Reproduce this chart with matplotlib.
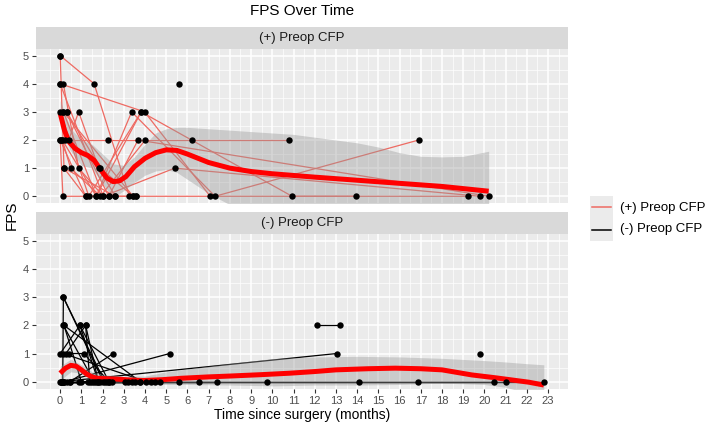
import numpy as np
import matplotlib.pyplot as plt
from matplotlib.lines import Line2D

plt.rcParams['font.family'] = ['Liberation Sans', 'DejaVu Sans']

# ---- patient trajectories, (+) Preop CFP ----
pos_x = [
    [0.0, 1.6, 3.26],
    [0.0, 3.98, 7.07],
    [0.15, 0.87, 2.03, 5.4, 19.79],
    [0.0, 1.35, 3.82, 10.93, 19.23],
    [0.15, 1.7, 3.37, 7.3, 16.9],
    [0.3, 1.9, 3.44, 13.95],
    [0.0, 0.13, 2.29, 3.67, 20.21],
    [0.1, 0.49, 1.9, 4.01],
    [0.25, 2.26, 6.23, 10.8],
    [0.4, 0.87, 1.82, 2.6, 3.59],
    [0.18, 1.2],
    [5.58],
    [0.0, 2.03],
    [0.15, 3.44],
    [0.0, 1.2, 3.59],
    [0.3, 2.29],
    [0.1, 1.7, 3.82],
    [0.0, 0.18, 2.6],
]
pos_y = [
    [5, 4, 0],
    [4, 3, 0],
    [4, 1, 0, 1, 0],
    [3, 0, 3, 0, 0],
    [3, 0, 3, 0, 2],
    [3, 1, 0, 0],
    [2, 0, 0, 2, 0],
    [2, 1, 0, 2],
    [2, 2, 2, 2],
    [2, 3, 1, 0, 0],
    [1, 0],
    [4],
    [4, 0],
    [3, 0],
    [2, 0, 0],
    [3, 0],
    [2, 0, 3],
    [5, 1, 0],
]

# ---- patient trajectories, (-) Preop CFP ----
neg_x = [
    [0.1, 4.48, 9.76, 16.89, 22.8],
    [0.2, 5.58, 14.1, 21.0],
    [0.3, 6.56, 20.45],
    [0.45, 7.38],
    [0.15, 1.6, 3.05],
    [0.12, 0.15, 2.1, 4.3],
    [0.0, 0.93, 1.8, 3.54],
    [0.27, 1.2, 1.4, 3.39],
    [0.4, 1.12, 2.3, 3.78],
    [0.2, 5.16],
    [0.05, 13.03],
    [12.12, 13.18],
    [19.79],
    [0.46, 2.5],
    [0.18, 1.0, 2.45, 4.72],
    [0.15, 4.06],
    [0.0, 0.9, 1.3, 3.2],
    [0.05, 1.5, 2.2],
    [0.1, 1.7, 1.9],
    [0.15, 2.03],
    [0.93, 2.3],
    [1.2, 1.8],
    [0.18, 3.78],
]
neg_y = [
    [0, 0, 0, 0, 0],
    [0, 0, 0, 0],
    [0, 0, 0],
    [0, 0],
    [2, 0, 0],
    [0, 3, 0, 0],
    [1, 2, 0, 0],
    [1, 2, 0, 0],
    [1, 1, 0, 0],
    [0, 1],
    [0, 1],
    [2, 2],
    [1],
    [0, 1],
    [2, 0, 0, 0],
    [1, 0],
    [0, 0, 0, 0],
    [0, 0, 0],
    [0, 0, 0],
    [3, 0],
    [2, 0],
    [2, 0],
    [2, 0],
]

# ---- loess fits ----
pos_fit_x = [0.0, 0.2, 0.4, 0.7, 1.0, 1.3, 1.6, 1.9, 2.2, 2.5, 2.8, 3.1, 3.5, 4.0,
             4.5, 5.0, 5.5, 6.0, 7.0, 8.0, 9.0, 10.0, 12.0, 14.0, 16.0, 18.0, 20.2]
pos_fit_y = [2.95, 2.35, 1.95, 1.7, 1.55, 1.45, 1.28, 0.95, 0.65, 0.52, 0.55, 0.7, 1.05, 1.35,
             1.55, 1.65, 1.63, 1.5, 1.2, 1.0, 0.88, 0.8, 0.68, 0.57, 0.46, 0.35, 0.18]
pos_band_x = [0, 0.5, 1, 1.5, 2, 2.5, 3, 3.5, 4, 4.5, 5, 5.5, 6, 7, 8, 9, 10, 11,
              12, 13, 14, 15, 16, 17, 18, 19, 20.2]
pos_band_hi = [3.4, 2.4, 2.0, 1.85, 1.5, 1.15, 1.1, 1.4, 1.85, 2.25, 2.4, 2.45, 2.45, 2.4,
               2.35, 2.3, 2.25, 2.2, 2.1, 2.0, 1.9, 1.75, 1.55, 1.42, 1.4, 1.42, 1.6]
pos_band_lo = [2.5, 1.6, 1.1, 1.0, 0.45, -0.05, 0.2, 0.5, 0.75, 0.9, 0.95, 0.85, 0.6, 0.1,
               -0.3, -0.6, -0.7, -0.8, -0.9, -1.0, -1.0, -1.0, -1.0, -1.0, -1.0, -1.2, -1.3]

neg_fit_x = [0.0, 0.25, 0.5, 0.75, 1.0, 1.25, 1.5, 1.75, 2.0, 2.7, 3.3, 3.9, 4.8, 5.7, 7.0,
             8.0, 9.5, 10.8, 12.0, 13.0, 14.5, 15.8, 17.0, 18.0, 19.4, 20.5, 21.3, 22.1, 22.8]
neg_fit_y = [0.3, 0.48, 0.58, 0.55, 0.42, 0.27, 0.17, 0.12, 0.11, 0.09, 0.06, 0.04, 0.07, 0.12,
             0.17, 0.2, 0.25, 0.3, 0.36, 0.42, 0.46, 0.48, 0.46, 0.42, 0.24, 0.14, 0.06, -0.02, -0.12]
neg_band_x = [0, 0.5, 1, 1.5, 2, 3, 4, 5, 6, 8, 10, 12, 14, 16, 18, 20, 21, 22, 22.8]
neg_band_hi = [0.55, 0.8, 0.6, 0.35, 0.25, 0.2, 0.2, 0.35, 0.45, 0.65, 0.82, 0.88, 0.9, 0.88,
               0.83, 0.75, 0.7, 0.64, 0.6]
neg_band_lo = [0.05, 0.35, 0.3, 0.05, -0.02, -0.05, -0.1, -0.1, -0.1, -0.12, -0.15, -0.12,
               -0.12, -0.1, -0.05, -0.1, -0.2, -0.4, -0.6]

x_breaks = list(range(0, 24))
y_breaks = list(range(0, 6))
group_labels = ['(+) Preop CFP', '(-) Preop CFP']
line_colors = ['#EE6A62', '#000000']

W, H = 709, 426
fig = plt.figure(figsize=(W / 100, H / 100), dpi=100)


def px_rect(left, top, right, bottom):
    return [left / W, 1 - bottom / H, (right - left) / W, (bottom - top) / H]


def style_panel(ax, show_x):
    ax.set_facecolor('#EBEBEB')
    ax.set_xlim(-1.14, 23.94)
    ax.set_ylim(-0.25, 5.25)
    ax.set_xticks(x_breaks)
    ax.set_xticks(np.arange(-0.5, 24, 1), minor=True)
    ax.set_yticks(y_breaks)
    ax.set_yticks(np.arange(0.5, 5, 1), minor=True)
    ax.grid(which='major', color='white', linewidth=1.1)
    ax.grid(which='minor', color='white', linewidth=0.5)
    ax.set_axisbelow(True)
    for s in ax.spines.values():
        s.set_visible(False)
    ax.tick_params(which='minor', length=0)
    ax.tick_params(which='major', length=3, width=0.8, color='#333333',
                   labelsize=8, labelcolor='#4D4D4D', pad=2)
    if not show_x:
        ax.tick_params(axis='x', which='major', length=0, labelbottom=False)


def draw_panel(ax, xs, ys, color, fx, fy, bx, bhi, blo):
    for px_, py_ in zip(xs, ys):
        ax.plot(px_, py_, color=color, linewidth=0.9, zorder=2)
    ax.fill_between(bx, blo, bhi, color='#999999', alpha=0.4, linewidth=0, zorder=3)
    ax.plot(fx, fy, color='#FF0000', linewidth=3.6, solid_capstyle='butt', zorder=4)
    for px_, py_ in zip(xs, ys):
        ax.plot(px_, py_, 'o', color='black', markersize=4.6, markeredgewidth=0, zorder=5)


def strip(top, bottom, label):
    sax = fig.add_axes(px_rect(36, top, 568, bottom))
    sax.set_facecolor('#D9D9D9')
    sax.set_xticks([])
    sax.set_yticks([])
    for s in sax.spines.values():
        s.set_visible(False)
    sax.text(0.5, 0.5, label, ha='center', va='center', fontsize=9.5, color='#1A1A1A',
             transform=sax.transAxes)


ax_top = fig.add_axes(px_rect(36, 48.6, 568, 203.3))
ax_bot = fig.add_axes(px_rect(36, 234, 568, 388.7))
style_panel(ax_top, False)
style_panel(ax_bot, True)
draw_panel(ax_top, pos_x, pos_y, line_colors[0], pos_fit_x, pos_fit_y,
           pos_band_x, pos_band_hi, pos_band_lo)
draw_panel(ax_bot, neg_x, neg_y, line_colors[1], neg_fit_x, neg_fit_y,
           neg_band_x, neg_band_hi, neg_band_lo)
strip(27, 48.6, group_labels[0])
strip(212, 234, group_labels[1])

fig.text(302 / W, 1 - 11 / H, 'FPS Over Time', ha='center', va='center', fontsize=11)
fig.text(12 / W, 1 - 215 / H, 'FPS', ha='center', va='center', rotation=90, fontsize=11)
fig.text(302 / W, 1 - 415.5 / H, 'Time since surgery (months)', ha='center', va='center',
         fontsize=10)

# legend
lax = fig.add_axes(px_rect(590, 196, 613, 241))
lax.set_xlim(0, 1)
lax.set_ylim(0, 2)
lax.set_facecolor('#EBEBEB')
lax.set_xticks([])
lax.set_yticks([])
for s in lax.spines.values():
    s.set_visible(False)
for i, (lab, col) in enumerate(zip(group_labels, line_colors)):
    yy = 1.5 - i
    lax.add_line(Line2D([0.1, 0.9], [yy, yy], color=col, linewidth=1.1))
    fig.text(620 / W, 1 - (207.5 + 21.5 * i) / H, lab, ha='left', va='center',
             fontsize=9.5, color='black')

fig.savefig('out.png', dpi=100)
